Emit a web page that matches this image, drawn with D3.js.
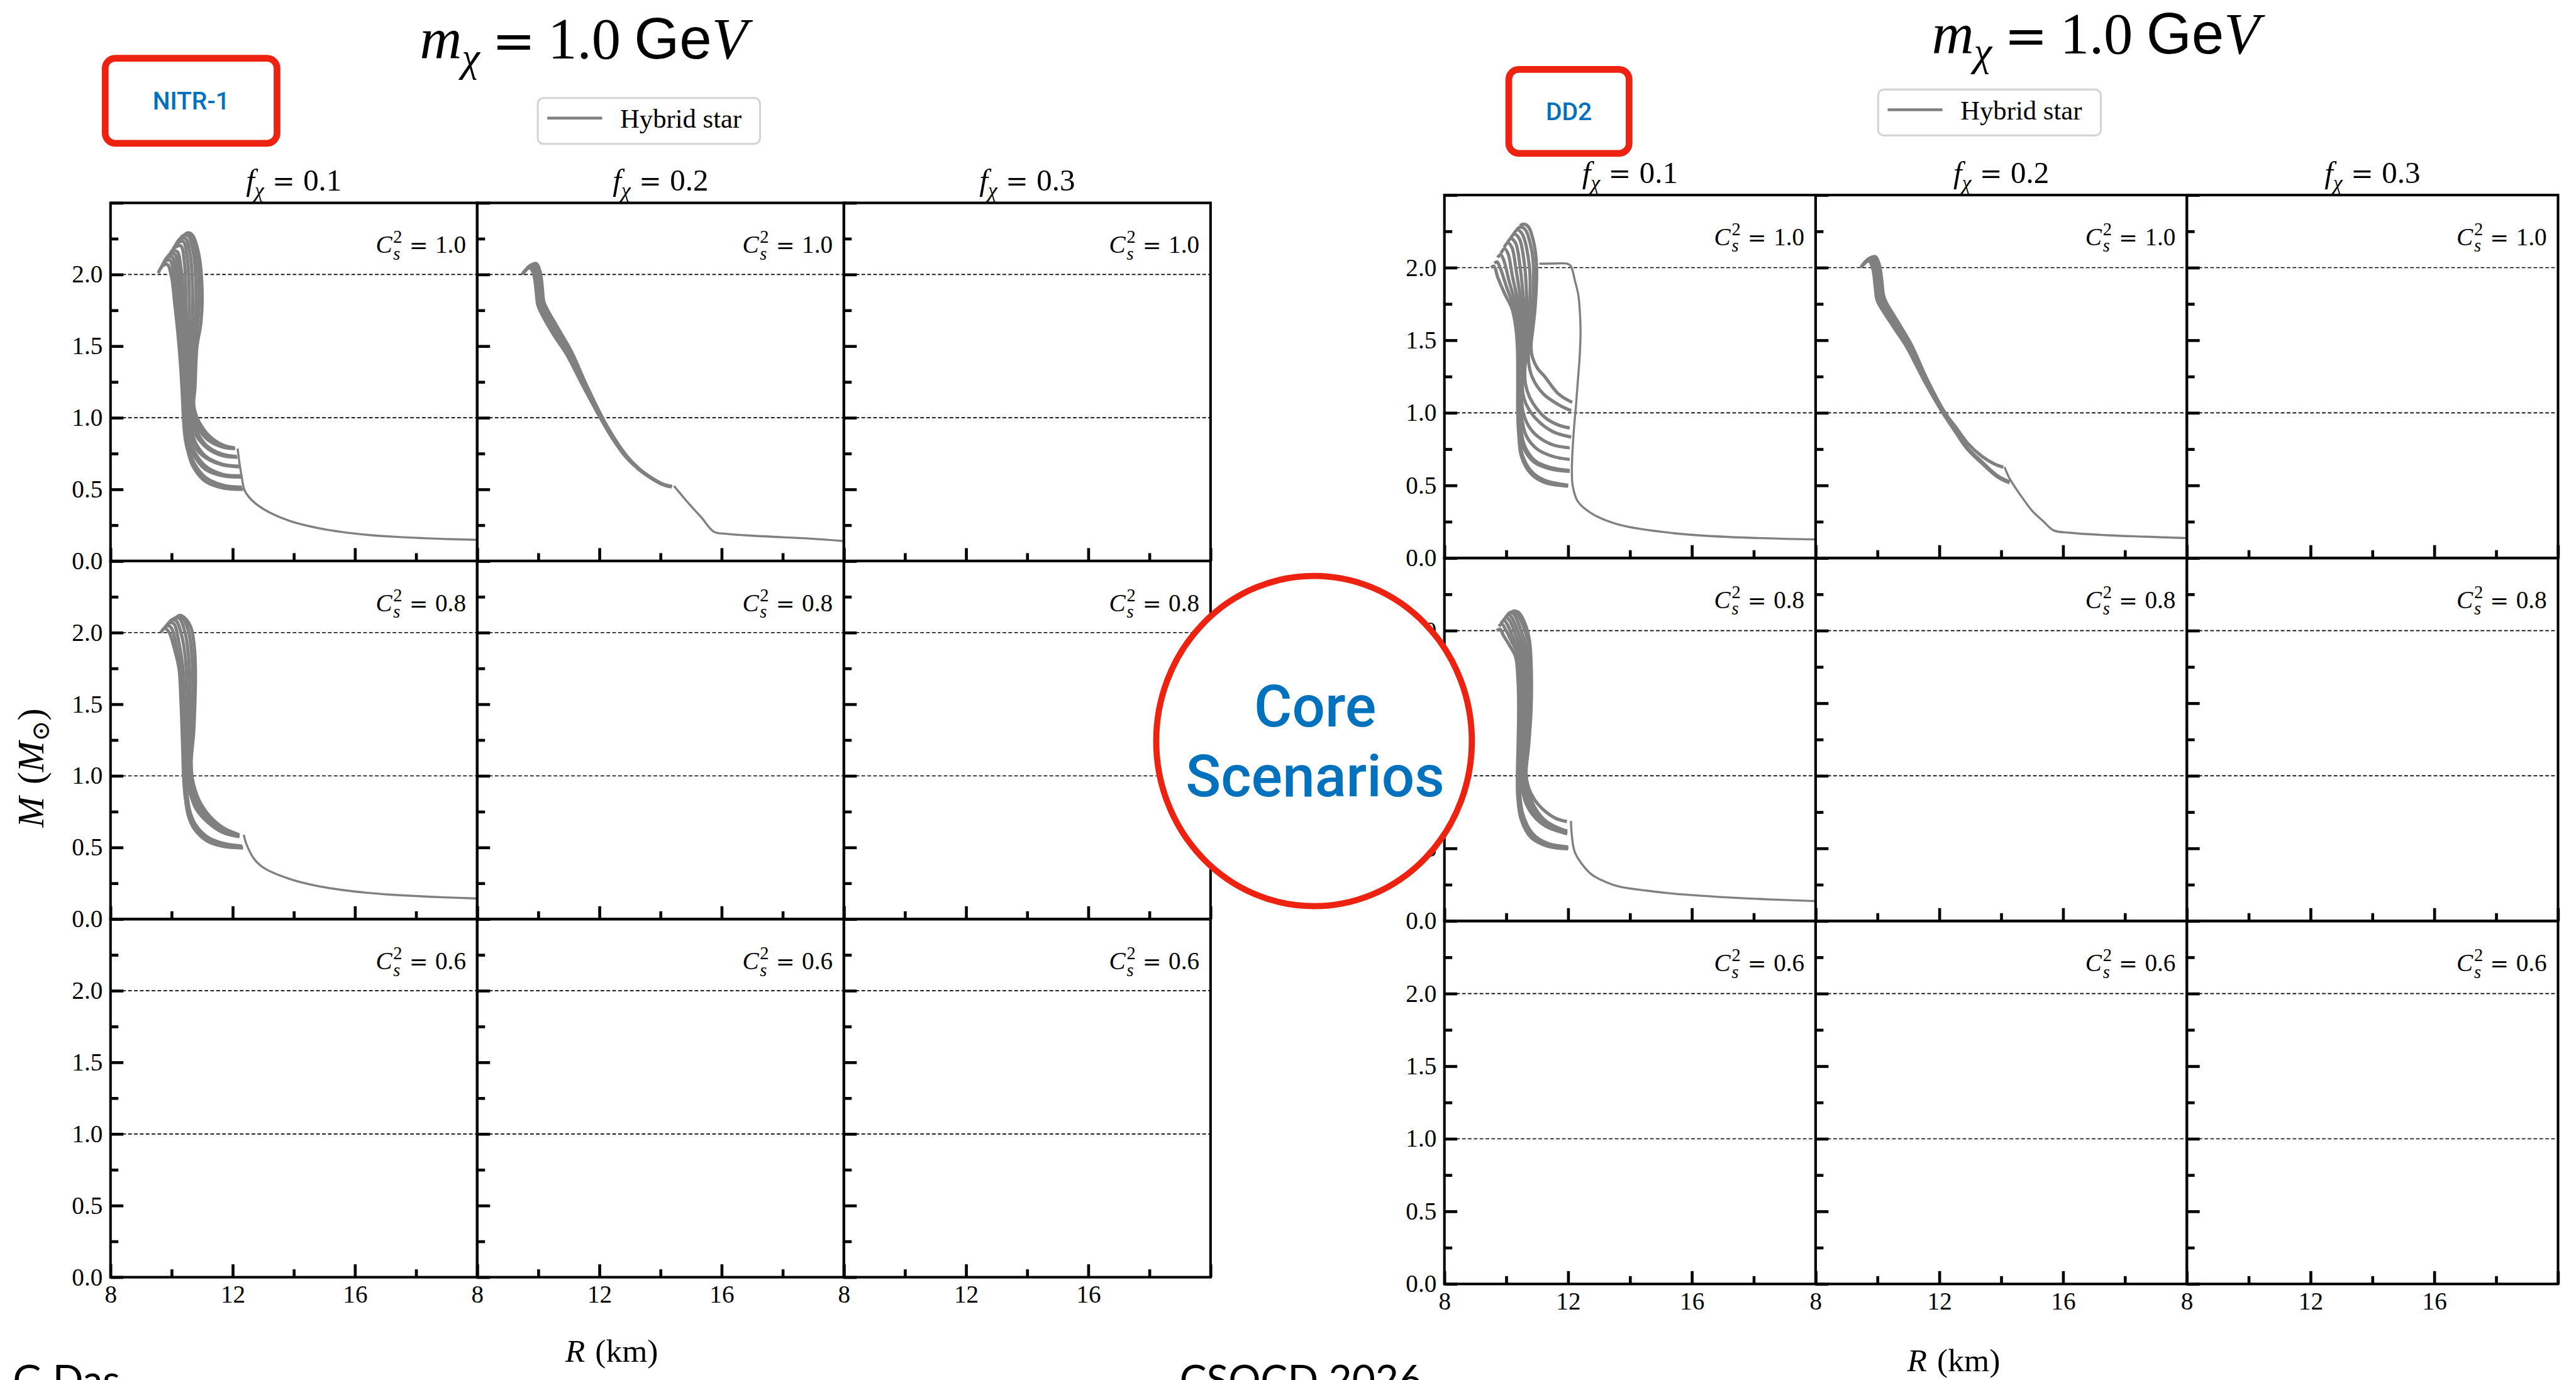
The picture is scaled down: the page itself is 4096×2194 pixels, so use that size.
<!DOCTYPE html>
<html>
<head>
<meta charset="utf-8">
<script src="https://cdn.jsdelivr.net/npm/d3@7"></script>
<style>
  html, body { margin: 0; padding: 0; background: #fff; }
  svg { display: block; }
</style>
</head>
<body>
<svg id="fig" width="4096" height="2194"></svg>
<script>
// ---------------------------------------------------------------
// Axis definitions shared by every panel
// ---------------------------------------------------------------
const radiusDomain = [8, 20];
const massDomain = [0, 2.5];
const radiusMajorTicks = [8, 12, 16, 20];
const radiusMinorTicks = [10, 14, 18];
const radiusTickLabels = { 8: "8", 12: "12", 16: "16" };
const massMajorTicks = [0, 0.5, 1.0, 1.5, 2.0, 2.5];
const massMinorTicks = [0.25, 0.75, 1.25, 1.75, 2.25];
const massTickLabels = { 0: "0.0", 0.5: "0.5", 1: "1.0", 1.5: "1.5", 2: "2.0" };
const referenceMasses = [1.0, 2.0];
const darkFractions = ["0.1", "0.2", "0.3"];      // f_chi per column
const soundSpeedsSq = ["1.0", "0.8", "0.6"];      // C_s^2 per row
const darkMatterMass = "1.0";                     // GeV
const legendLabel = "Hybrid star";

// ---------------------------------------------------------------
// Mass-radius sequences, [R (km), M (Msun)]
// NITR-1, f = 0.1, Cs^2 = 1.0
// ---------------------------------------------------------------
const nitrF01Cs10 = [
  [[9.56,2.01],[9.7,2.06],[9.86,2.07],[10.0,1.98],[10.1,1.8],[10.2,1.6],[10.28,1.4],[10.34,1.2],[10.38,1.02],[10.44,0.86],[10.54,0.76],[10.7,0.66],[11.08,0.56],[11.67,0.51],[12.34,0.50]],
  [[9.64,2.04],[9.78,2.09],[9.94,2.1],[10.08,2.0],[10.18,1.8],[10.27,1.6],[10.33,1.4],[10.38,1.2],[10.41,1.03],[10.47,0.88],[10.57,0.78],[10.72,0.69],[11.1,0.585],[11.67,0.53],[12.3,0.515]],
  [[9.72,2.07],[9.86,2.12],[10.02,2.12],[10.16,2.02],[10.26,1.8],[10.33,1.6],[10.39,1.4],[10.42,1.2],[10.44,1.04],[10.5,0.9],[10.6,0.8],[10.72,0.74],[11.1,0.64],[11.67,0.595],[12.28,0.586]],
  [[9.8,2.1],[9.94,2.14],[10.1,2.14],[10.24,2.03],[10.33,1.8],[10.4,1.6],[10.44,1.4],[10.46,1.2],[10.47,1.05],[10.53,0.92],[10.63,0.82],[10.75,0.76],[11.12,0.66],[11.67,0.605],[12.26,0.595]],
  [[9.88,2.12],[10.02,2.16],[10.18,2.16],[10.31,2.04],[10.4,1.8],[10.46,1.6],[10.49,1.4],[10.5,1.2],[10.5,1.06],[10.56,0.95],[10.68,0.85],[10.82,0.78],[11.12,0.72],[11.67,0.67],[12.22,0.658]],
  [[9.96,2.15],[10.12,2.19],[10.3,2.2],[10.42,2.08],[10.47,1.8],[10.5,1.5],[10.5,1.2],[10.52,1.06],[10.58,0.96],[10.7,0.87],[10.85,0.8],[11.12,0.73],[11.67,0.675],[12.2,0.662]],
  [[10.05,2.18],[10.2,2.22],[10.38,2.23],[10.52,2.1],[10.58,1.8],[10.57,1.5],[10.55,1.2],[10.56,1.07],[10.62,0.98],[10.74,0.9],[11.15,0.79],[11.67,0.735],[12.15,0.725]],
  [[10.14,2.21],[10.28,2.25],[10.46,2.25],[10.62,2.12],[10.69,1.8],[10.64,1.5],[10.6,1.2],[10.6,1.08],[10.66,1.0],[10.78,0.92],[11.15,0.805],[11.67,0.745],[12.12,0.73]],
  [[10.24,2.23],[10.36,2.27],[10.54,2.27],[10.72,2.14],[10.8,1.8],[10.71,1.5],[10.65,1.2],[10.64,1.09],[10.7,1.01],[10.8,0.95],[11.16,0.85],[11.67,0.795],[12.08,0.785]],
  [[10.34,2.25],[10.44,2.28],[10.6,2.28],[10.8,2.15],[10.9,1.8],[10.77,1.5],[10.7,1.2],[10.68,1.1],[10.74,1.02],[10.85,0.96],[11.2,0.86],[11.67,0.8],[12.06,0.79]],
  [[10.42,2.27],[10.5,2.29],[10.66,2.28],[10.88,2.15],[11.0,1.85],[10.95,1.65],[10.83,1.5],[10.76,1.2],[10.72,1.1],[10.78,1.03],[10.9,0.97],[11.2,0.88],[11.67,0.81],[12.05,0.79]]
];
const nitrF01Cs10Tail = [[12.16,0.785],[12.22,0.683],[12.3,0.58],[12.38,0.497],[12.6,0.43],[13.02,0.361],[13.86,0.28],[14.7,0.234],[15.55,0.203],[16.39,0.183],[17.23,0.17],[18.08,0.161],[18.92,0.154],[20.0,0.148]];

// NITR-1, f = 0.2, Cs^2 = 1.0
const nitrF02Cs10 = [
  [[9.47,2.0],[9.6,2.035],[9.74,2.045],[9.86,1.99],[9.93,1.88],[9.98,1.79],[10.04,1.755],[10.5,1.58],[10.92,1.445],[11.48,1.215],[12.04,0.995],[12.45,0.848],[12.85,0.73],[13.26,0.645],[13.58,0.594],[14.06,0.535],[14.37,0.518]],
  [[9.52,2.01],[9.65,2.045],[9.78,2.055],[9.9,2.0],[9.97,1.89],[10.02,1.79],[10.08,1.757],[10.54,1.585],[10.96,1.448],[11.5,1.218],[12.05,0.997],[12.46,0.849],[12.85,0.731],[13.26,0.646],[13.58,0.595],[14.06,0.536],[14.37,0.519]],
  [[9.56,2.02],[9.69,2.055],[9.82,2.062],[9.94,2.005],[10.01,1.895],[10.06,1.795],[10.12,1.76],[10.58,1.59],[11.0,1.452],[11.52,1.22],[12.06,0.998],[12.47,0.85],[12.86,0.732],[13.26,0.646],[13.58,0.595],[14.06,0.536],[14.37,0.519]],
  [[9.6,2.03],[9.72,2.06],[9.86,2.068],[9.98,2.01],[10.05,1.9],[10.1,1.8],[10.16,1.763],[10.62,1.595],[11.03,1.455],[11.54,1.222],[12.07,1.0],[12.48,0.851],[12.87,0.733],[13.27,0.647],[13.58,0.596],[14.06,0.537],[14.37,0.52]],
  [[9.65,2.04],[9.76,2.065],[9.9,2.072],[10.02,2.015],[10.09,1.905],[10.14,1.805],[10.21,1.766],[10.66,1.6],[11.06,1.458],[11.56,1.224],[12.08,1.002],[12.49,0.852],[12.88,0.734],[13.27,0.647],[13.59,0.596],[14.06,0.537],[14.37,0.52]],
  [[9.71,2.05],[9.8,2.07],[9.94,2.075],[10.06,2.02],[10.13,1.91],[10.18,1.81],[10.26,1.77],[10.7,1.605],[11.09,1.46],[11.58,1.226],[12.09,1.004],[12.5,0.853],[12.89,0.735],[13.28,0.648],[13.59,0.597],[14.06,0.538],[14.37,0.521]]
];
const nitrF02Cs10Tail = [[14.44,0.524],[14.93,0.4],[15.33,0.306],[15.75,0.204],[16.13,0.19],[17.32,0.173],[18.92,0.156],[20.0,0.139]];

// NITR-1, f = 0.1, Cs^2 = 0.8
const nitrF01Cs08 = [
  [[9.64,2.0],[9.78,2.03],[9.92,2.0],[10.1,1.88],[10.24,1.75],[10.31,1.5],[10.36,1.2],[10.39,1.0],[10.44,0.86],[10.55,0.72],[10.74,0.63],[11.16,0.545],[11.67,0.508],[12.34,0.496]],
  [[9.72,2.02],[9.86,2.05],[10.0,2.03],[10.16,1.9],[10.29,1.76],[10.36,1.5],[10.4,1.2],[10.42,1.0],[10.47,0.87],[10.58,0.735],[10.76,0.645],[11.16,0.56],[11.67,0.52],[12.32,0.505]],
  [[9.8,2.04],[9.94,2.07],[10.08,2.06],[10.24,1.93],[10.36,1.77],[10.43,1.5],[10.46,1.2],[10.46,1.0],[10.5,0.88],[10.6,0.75],[10.78,0.66],[11.16,0.575],[11.67,0.53],[12.3,0.51]],
  [[9.88,2.06],[10.02,2.09],[10.16,2.08],[10.34,1.97],[10.46,1.8],[10.52,1.5],[10.53,1.2],[10.51,1.02],[10.56,0.93],[10.66,0.84],[10.8,0.77],[11.16,0.68],[11.67,0.605],[12.22,0.575]],
  [[9.96,2.08],[10.1,2.1],[10.25,2.1],[10.44,2.0],[10.56,1.82],[10.61,1.5],[10.6,1.2],[10.55,1.04],[10.6,0.95],[10.7,0.86],[10.84,0.79],[11.16,0.7],[11.67,0.62],[12.22,0.58]],
  [[10.05,2.09],[10.18,2.11],[10.33,2.11],[10.54,2.02],[10.66,1.85],[10.7,1.6],[10.68,1.3],[10.6,1.07],[10.64,0.97],[10.74,0.88],[10.88,0.81],[11.16,0.72],[11.67,0.63],[12.22,0.585]],
  [[10.14,2.1],[10.26,2.12],[10.44,2.1],[10.64,2.03],[10.75,1.88],[10.78,1.7],[10.76,1.5],[10.72,1.3],[10.64,1.1],[10.67,0.99],[10.77,0.9],[10.92,0.82],[11.2,0.73],[11.67,0.64],[12.2,0.59]]
];
const nitrF01Cs08Tail = [[12.36,0.589],[12.42,0.54],[12.51,0.492],[12.7,0.42],[13.02,0.357],[13.86,0.28],[14.7,0.234],[15.55,0.204],[16.39,0.184],[17.23,0.17],[18.08,0.16],[18.92,0.152],[20.0,0.144]];

// DD2, f = 0.1, Cs^2 = 1.0
const dd2F01Cs10 = [
  [[9.51,2.0],[9.6,2.01],[9.73,1.93],[9.95,1.82],[10.18,1.72],[10.3,1.6],[10.36,1.45],[10.37,1.2],[10.37,1.0],[10.4,0.86],[10.49,0.7],[10.8,0.58],[11.24,0.52],[12.0,0.495]],
  [[9.62,2.03],[9.7,2.04],[9.8,2.0],[10.02,1.86],[10.26,1.72],[10.36,1.6],[10.4,1.45],[10.39,1.2],[10.39,1.02],[10.42,0.87],[10.52,0.71],[10.82,0.595],[11.24,0.535],[12.0,0.502]],
  [[9.72,2.07],[9.82,2.09],[9.92,2.05],[10.1,1.9],[10.34,1.72],[10.42,1.6],[10.44,1.45],[10.41,1.2],[10.41,1.02],[10.44,0.9],[10.56,0.76],[10.9,0.66],[11.4,0.615],[12.05,0.597]],
  [[9.83,2.1],[9.94,2.13],[10.05,2.1],[10.2,1.94],[10.42,1.72],[10.48,1.6],[10.48,1.45],[10.43,1.2],[10.43,1.03],[10.46,0.92],[10.58,0.78],[10.93,0.67],[11.4,0.625],[12.05,0.603]],
  [[9.93,2.14],[10.05,2.17],[10.18,2.14],[10.32,1.98],[10.5,1.72],[10.55,1.6],[10.52,1.45],[10.46,1.2],[10.45,1.06],[10.5,0.96],[10.65,0.84],[11.0,0.75],[11.5,0.7],[12.05,0.679]],
  [[10.03,2.17],[10.15,2.2],[10.3,2.17],[10.45,2.0],[10.58,1.72],[10.62,1.6],[10.57,1.45],[10.49,1.2],[10.49,1.1],[10.55,1.0],[10.72,0.91],[11.0,0.84],[11.5,0.78],[12.05,0.759]],
  [[10.13,2.2],[10.26,2.23],[10.42,2.2],[10.6,2.0],[10.67,1.72],[10.68,1.6],[10.62,1.45],[10.52,1.22],[10.54,1.13],[10.64,1.06],[10.98,0.955],[11.51,0.87],[12.1,0.833]],
  [[10.23,2.23],[10.36,2.26],[10.52,2.23],[10.75,2.0],[10.76,1.72],[10.74,1.6],[10.67,1.45],[10.6,1.3],[10.62,1.2],[10.75,1.11],[10.98,1.03],[11.3,0.96],[11.7,0.915],[12.05,0.896]],
  [[10.33,2.26],[10.46,2.28],[10.62,2.26],[10.82,2.12],[10.88,2.0],[10.85,1.72],[10.8,1.6],[10.73,1.45],[10.72,1.35],[10.85,1.24],[11.2,1.13],[11.7,1.055],[12.1,1.015]],
  [[10.44,2.29],[10.56,2.3],[10.72,2.28],[10.9,2.16],[10.98,2.0],[10.93,1.72],[10.86,1.58],[10.8,1.45],[10.85,1.38],[11.0,1.31],[11.24,1.25],[11.69,1.13],[12.13,1.072]]
];
const dd2F01Cs10Tail = [[11.07,2.027],[11.5,2.028],[11.98,2.027],[12.09,2.01],[12.22,1.91],[12.33,1.81],[12.38,1.69],[12.4,1.55],[12.37,1.38],[12.31,1.21],[12.25,1.04],[12.18,0.87],[12.12,0.61],[12.15,0.495],[12.31,0.39],[12.76,0.307],[13.64,0.23],[15.42,0.171],[17.2,0.145],[20.0,0.128]];

// DD2, f = 0.2, Cs^2 = 1.0
const dd2F02Cs10 = [
  [[9.46,2.0],[9.59,2.035],[9.73,2.045],[9.85,1.99],[9.92,1.88],[9.97,1.79],[10.03,1.755],[10.52,1.59],[10.94,1.455],[11.5,1.225],[12.11,1.0],[12.5,0.875],[12.9,0.752],[13.38,0.652],[13.87,0.56],[14.27,0.518]],
  [[9.51,2.01],[9.63,2.045],[9.77,2.055],[9.89,2.0],[9.96,1.89],[10.01,1.795],[10.07,1.758],[10.56,1.594],[10.97,1.458],[11.52,1.228],[12.12,1.002],[12.51,0.877],[12.9,0.754],[13.38,0.654],[13.87,0.562],[14.27,0.52]],
  [[9.56,2.02],[9.67,2.055],[9.81,2.062],[9.93,2.005],[10.0,1.895],[10.05,1.8],[10.11,1.761],[10.6,1.597],[11.0,1.46],[11.54,1.23],[12.13,1.004],[12.52,0.879],[12.9,0.756],[13.38,0.656],[13.87,0.564],[14.27,0.522]],
  [[9.6,2.03],[9.71,2.06],[9.85,2.068],[9.97,2.01],[10.04,1.9],[10.09,1.805],[10.16,1.764],[10.64,1.6],[11.03,1.462],[11.55,1.232],[12.13,1.006],[12.53,0.881],[12.9,0.758],[13.38,0.658],[13.87,0.566],[14.26,0.524]],
  [[9.65,2.04],[9.75,2.065],[9.89,2.072],[10.01,2.015],[10.09,1.905],[10.14,1.81],[10.21,1.767],[10.68,1.603],[11.06,1.464],[11.57,1.234],[12.14,1.008],[12.55,0.883],[12.9,0.762],[13.38,0.662],[13.87,0.568],[14.26,0.526]],
  [[9.72,2.05],[9.8,2.07],[9.94,2.075],[10.06,2.02],[10.14,1.91],[10.19,1.815],[10.26,1.77],[10.72,1.606],[11.1,1.467],[11.59,1.237],[12.15,1.012],[12.57,0.89],[12.9,0.794],[13.38,0.70],[13.79,0.647],[14.07,0.626]]
];
const dd2F02Cs10Tail = [[14.11,0.626],[14.24,0.56],[14.44,0.49],[14.7,0.41],[15.0,0.325],[15.35,0.255],[15.69,0.191],[16.22,0.174],[17.43,0.157],[18.7,0.147],[20.0,0.137]];

// DD2, f = 0.1, Cs^2 = 0.8
const dd2F01Cs08 = [
  [[9.69,2.0],[9.8,2.01],[9.9,1.97],[10.1,1.9],[10.3,1.82],[10.38,1.65],[10.4,1.45],[10.38,1.2],[10.36,1.0],[10.37,0.86],[10.48,0.7],[10.8,0.575],[11.33,0.515],[12.0,0.497]],
  [[9.76,2.03],[9.86,2.045],[9.97,2.01],[10.16,1.93],[10.36,1.84],[10.44,1.67],[10.46,1.45],[10.42,1.2],[10.39,1.02],[10.4,0.88],[10.5,0.72],[10.82,0.59],[11.33,0.525],[12.0,0.503]],
  [[9.83,2.05],[9.93,2.07],[10.04,2.04],[10.22,1.95],[10.42,1.86],[10.5,1.68],[10.52,1.45],[10.47,1.2],[10.42,1.04],[10.43,0.9],[10.53,0.74],[10.84,0.605],[11.33,0.535],[12.0,0.51]],
  [[9.9,2.07],[10.0,2.09],[10.11,2.07],[10.3,1.97],[10.48,1.87],[10.57,1.7],[10.58,1.45],[10.52,1.2],[10.47,1.05],[10.5,0.94],[10.62,0.82],[10.9,0.72],[11.3,0.65],[11.87,0.606],[11.97,0.6]],
  [[9.97,2.09],[10.07,2.11],[10.18,2.09],[10.38,1.99],[10.55,1.88],[10.64,1.7],[10.64,1.45],[10.57,1.2],[10.5,1.07],[10.53,0.96],[10.66,0.84],[10.94,0.735],[11.3,0.665],[11.87,0.612],[11.97,0.606]],
  [[10.04,2.11],[10.13,2.125],[10.26,2.11],[10.46,2.01],[10.62,1.9],[10.72,1.7],[10.7,1.45],[10.62,1.2],[10.54,1.08],[10.58,0.98],[10.7,0.86],[10.98,0.745],[11.3,0.675],[11.87,0.62],[11.97,0.614]],
  [[10.11,2.12],[10.2,2.13],[10.34,2.12],[10.55,2.03],[10.7,1.92],[10.78,1.72],[10.76,1.45],[10.68,1.2],[10.58,1.1],[10.62,0.99],[10.74,0.87],[11.0,0.755],[11.3,0.685],[11.87,0.625],[11.97,0.62]],
  [[10.18,2.13],[10.27,2.135],[10.42,2.12],[10.62,2.04],[10.75,1.93],[10.81,1.72],[10.8,1.45],[10.72,1.2],[10.64,1.02],[10.71,0.925],[10.9,0.84],[11.16,0.774],[11.6,0.707],[11.96,0.685]]
];
const dd2F01Cs08Tail = [[12.09,0.69],[12.1,0.64],[12.12,0.59],[12.16,0.52],[12.22,0.472],[12.4,0.405],[12.76,0.32],[13.2,0.27],[13.64,0.238],[14.5,0.21],[15.42,0.188],[17.2,0.162],[18.6,0.148],[20.0,0.137]];

// ---------------------------------------------------------------
// Page layout (design grid is 4603 x 2466, scaled to the window)
// ---------------------------------------------------------------
const W = 4096, H = 2194;
const S = W / 4603;
const SERIF = "'Liberation Serif', 'Times New Roman', serif";
const EQ = "'DejaVu Serif', serif";
const SANS = "Roboto, 'Liberation Sans', Arial, sans-serif";
const CURVE = "#808080";
const RED = "#ee2211";
const BLUE = "#0071bc";

const figures = [
  {
    key: "nitr", eos: "NITR-1",
    x0: 197.5, y0: 362.5, colW: 655.2, rowH: 639.8, titleGap: 22,
    title: { x: 750, y: 105 },
    legend: { x: 961, y: 175, w: 397, h: 82 },
    badge: { x: 182, y: 98, w: 319, h: 164 },
    ylab: { x: 54, y: 1372 },
    xlab: { x: 1093, y: 2433 },
    coveredLabels: {},
    curves: {
      "0,0": { bundle: nitrF01Cs10, tail: nitrF01Cs10Tail },
      "0,1": { bundle: nitrF02Cs10, tail: nitrF02Cs10Tail },
      "1,0": { bundle: nitrF01Cs08, tail: nitrF01Cs08Tail }
    }
  },
  {
    key: "dd2", eos: "DD2",
    x0: 2581, y0: 348.5, colW: 663.3, rowH: 648.5, titleGap: 21,
    title: { x: 3452, y: 95 },
    legend: { x: 3356, y: 160, w: 398, h: 82 },
    badge: { x: 2690, y: 118, w: 227, h: 162 },
    ylab: null,                      // sits under the central callout
    xlab: { x: 3491, y: 2450 },
    coveredLabels: { 1: [1.0, 1.5] }, // middle-row labels hidden by the callout
    curves: {
      "0,0": { bundle: dd2F01Cs10, tail: dd2F01Cs10Tail },
      "0,1": { bundle: dd2F02Cs10, tail: dd2F02Cs10Tail },
      "1,0": { bundle: dd2F01Cs08, tail: dd2F01Cs08Tail }
    }
  }
];

const svg = d3.select("#fig");
svg.append("rect").attr("width", W).attr("height", H).attr("fill", "#fff");
const root = svg.append("g").attr("transform", `scale(${S})`);

function styleAxis(ag, fontSize) {
  ag.select(".domain").remove();
  ag.attr("font-family", SERIF).attr("font-size", fontSize);
  ag.selectAll(".tick line").attr("stroke", "#000").attr("stroke-width", 5.2);
  ag.selectAll(".tick text").attr("fill", "#000");
}

function drawPanel(g, fig, row, col) {
  const px = fig.x0 + col * fig.colW, py = fig.y0 + row * fig.rowH;
  const x = d3.scaleLinear().domain(radiusDomain).range([0, fig.colW]);
  const y = d3.scaleLinear().domain(massDomain).range([fig.rowH, 0]);
  const pg = g.append("g").attr("transform", `translate(${px},${py})`);

  const clipId = `clip-${fig.key}-${row}-${col}`;
  pg.append("clipPath").attr("id", clipId)
    .append("rect").attr("width", fig.colW).attr("height", fig.rowH);
  const plot = pg.append("g").attr("clip-path", `url(#${clipId})`);

  // dashed guides at 1 and 2 solar masses
  plot.selectAll("line.guide").data(referenceMasses).join("line")
    .attr("class", "guide")
    .attr("x1", 0).attr("x2", fig.colW)
    .attr("y1", d => y(d)).attr("y2", d => y(d))
    .attr("stroke", "#000").attr("stroke-width", 1.9)
    .attr("stroke-dasharray", "6.5,4");

  const line = d3.line()
    .x(d => x(d[0])).y(d => y(d[1]))
    .curve(d3.curveCatmullRom.alpha(0.5));

  const set = fig.curves[`${row},${col}`];
  if (set) {
    plot.selectAll("path.seq").data(set.bundle).join("path")
      .attr("class", "seq")
      .attr("d", line)
      .attr("fill", "none").attr("stroke", CURVE)
      .attr("stroke-width", 5.8).attr("stroke-linejoin", "round");
    plot.append("path").datum(set.tail)
      .attr("d", line)
      .attr("fill", "none").attr("stroke", CURVE)
      .attr("stroke-width", 3.8).attr("stroke-linejoin", "round");
  }

  // y ticks (inward, left side)
  const hidden = (col === 0 && fig.coveredLabels[row]) || [];
  const yMaj = pg.append("g").call(
    d3.axisLeft(y).tickValues(massMajorTicks).tickSizeInner(-23).tickSizeOuter(0).tickPadding(14)
      .tickFormat(d => (col === 0 && massTickLabels[d] !== undefined && !hidden.includes(d)) ? massTickLabels[d] : ""));
  styleAxis(yMaj, 44);
  const yMin = pg.append("g").call(
    d3.axisLeft(y).tickValues(massMinorTicks).tickSizeInner(-14).tickSizeOuter(0).tickFormat(""));
  styleAxis(yMin, 44);

  // x ticks (inward, bottom side)
  const xMaj = pg.append("g").attr("transform", `translate(0,${fig.rowH})`).call(
    d3.axisBottom(x).tickValues(radiusMajorTicks).tickSizeInner(-23).tickSizeOuter(0).tickPadding(14)
      .tickFormat(d => (row === 2 && radiusTickLabels[d]) ? radiusTickLabels[d] : ""));
  styleAxis(xMaj, 44);
  const xMin = pg.append("g").attr("transform", `translate(0,${fig.rowH})`).call(
    d3.axisBottom(x).tickValues(radiusMinorTicks).tickSizeInner(-14).tickSizeOuter(0).tickFormat(""));
  styleAxis(xMin, 44);

  // frame
  pg.append("rect").attr("width", fig.colW).attr("height", fig.rowH)
    .attr("fill", "none").attr("stroke", "#000").attr("stroke-width", 4.6);

  // C_s^2 annotation
  const t = pg.append("text")
    .attr("x", fig.colW - 20).attr("y", 89.5)
    .attr("text-anchor", "end")
    .attr("font-family", SERIF).attr("font-size", 44).attr("fill", "#000");
  t.append("tspan").attr("font-style", "italic").text("C");
  t.append("tspan").attr("font-size", 32).attr("dx", 2).attr("dy", -18).text("2");
  t.append("tspan").attr("font-style", "italic").attr("font-size", 32).attr("dx", -16).attr("dy", 30).text("s");
  t.append("tspan").attr("font-family", EQ).attr("font-size", 40).attr("dx", 16).attr("dy", -12).text("=");
  t.append("tspan").attr("dx", 13).text(soundSpeedsSq[row]);
}

function drawFigure(fig) {
  const g = root.append("g");
  for (let r = 0; r < 3; r++) for (let c = 0; c < 3; c++) drawPanel(g, fig, r, c);

  // column headers
  darkFractions.forEach((f, c) => {
    const t = g.append("text")
      .attr("x", fig.x0 + (c + 0.5) * fig.colW).attr("y", fig.y0 - fig.titleGap)
      .attr("text-anchor", "middle")
      .attr("font-family", SERIF).attr("font-size", 55).attr("fill", "#000");
    t.append("tspan").attr("font-style", "italic").text("f");
    t.append("tspan").attr("font-style", "italic").attr("font-size", 38).attr("dy", 12).text("χ");
    t.append("tspan").attr("font-family", EQ).attr("font-size", 48).attr("dx", 15).attr("dy", -12).text("=");
    t.append("tspan").attr("dx", 15).text(f);
  });

  // figure title
  const tt = g.append("text")
    .attr("x", fig.title.x).attr("y", fig.title.y)
    .attr("font-family", SERIF).attr("font-size", 104).attr("fill", "#000");
  tt.append("tspan").attr("font-style", "italic").text("m");
  tt.append("tspan").attr("font-style", "italic").attr("font-size", 73).attr("dy", 22).text("χ");
  tt.append("tspan").attr("font-family", EQ).attr("font-size", 93).attr("dx", 22).attr("dy", -22).text("=");
  tt.append("tspan").attr("dx", 22).text(darkMatterMass);
  tt.append("tspan").attr("font-family", "'Liberation Sans', Arial, sans-serif").attr("dx", 24).text("Ge");
  tt.append("tspan").attr("font-style", "italic").text("V");

  // legend
  const L = fig.legend;
  g.append("rect").attr("x", L.x).attr("y", L.y).attr("width", L.w).attr("height", L.h)
    .attr("rx", 10).attr("fill", "#fff").attr("stroke", "#d4d4d4").attr("stroke-width", 3.5);
  g.append("line").attr("x1", L.x + 17).attr("x2", L.x + 115)
    .attr("y1", L.y + 36).attr("y2", L.y + 36)
    .attr("stroke", CURVE).attr("stroke-width", 5);
  g.append("text").attr("x", L.x + 147).attr("y", L.y + 53)
    .attr("font-family", SERIF).attr("font-size", 48).attr("fill", "#000").text(legendLabel);

  // equation-of-state badge
  const B = fig.badge;
  g.append("rect").attr("x", B.x + 6).attr("y", B.y + 6).attr("width", B.w - 12).attr("height", B.h - 12)
    .attr("rx", 18).attr("fill", "#fff").attr("stroke", RED).attr("stroke-width", 12);
  g.append("text").attr("x", B.x + B.w / 2).attr("y", B.y + B.h / 2 + 16)
    .attr("text-anchor", "middle")
    .attr("font-family", SANS).attr("font-weight", 500).attr("font-size", 44)
    .attr("fill", BLUE).text(fig.eos);

  // axis titles
  if (fig.ylab) {
    const yl = g.append("text")
      .attr("transform", `translate(${fig.ylab.x},${fig.ylab.y}) rotate(-90)`)
      .attr("text-anchor", "middle").attr("dy", "0.35em")
      .attr("font-family", SERIF).attr("font-size", 66).attr("fill", "#000");
    yl.append("tspan").attr("font-style", "italic").text("M");
    yl.append("tspan").attr("dx", 22).text("(");
    yl.append("tspan").attr("font-style", "italic").text("M");
    yl.append("tspan").attr("font-family", EQ).attr("font-size", 44).attr("dy", 10).text("⊙");
    yl.append("tspan").attr("dy", -10).text(")");
  }

  const xl = g.append("text")
    .attr("x", fig.xlab.x).attr("y", fig.xlab.y)
    .attr("text-anchor", "middle")
    .attr("font-family", SERIF).attr("font-size", 58).attr("fill", "#000");
  xl.append("tspan").attr("font-style", "italic").text("R");
  xl.append("tspan").attr("dx", 18).text("(km)");
}

figures.forEach(drawFigure);

// central callout
const callout = root.append("g");
callout.append("ellipse").attr("cx", 2348).attr("cy", 1324).attr("rx", 282).attr("ry", 295)
  .attr("fill", "#fff").attr("stroke", RED).attr("stroke-width", 11);
callout.selectAll("text").data(["Core", "Scenarios"]).join("text")
  .attr("x", 2350).attr("y", (d, i) => i === 0 ? 1298 : 1423)
  .attr("text-anchor", "middle")
  .attr("font-family", SANS).attr("font-weight", 500).attr("font-size", 104)
  .attr("fill", BLUE).text(d => d);

// footer
root.append("text").attr("x", 23).attr("y", 2490)
  .attr("font-family", "Lato, 'Open Sans', sans-serif").attr("font-size", 72).attr("fill", "#000").text("G Das");
root.append("text").attr("x", 2108).attr("y", 2490)
  .attr("font-family", "Lato, 'Open Sans', sans-serif").attr("font-size", 72).attr("fill", "#000").text("CSQCD 2026");
</script>
</body>
</html>
